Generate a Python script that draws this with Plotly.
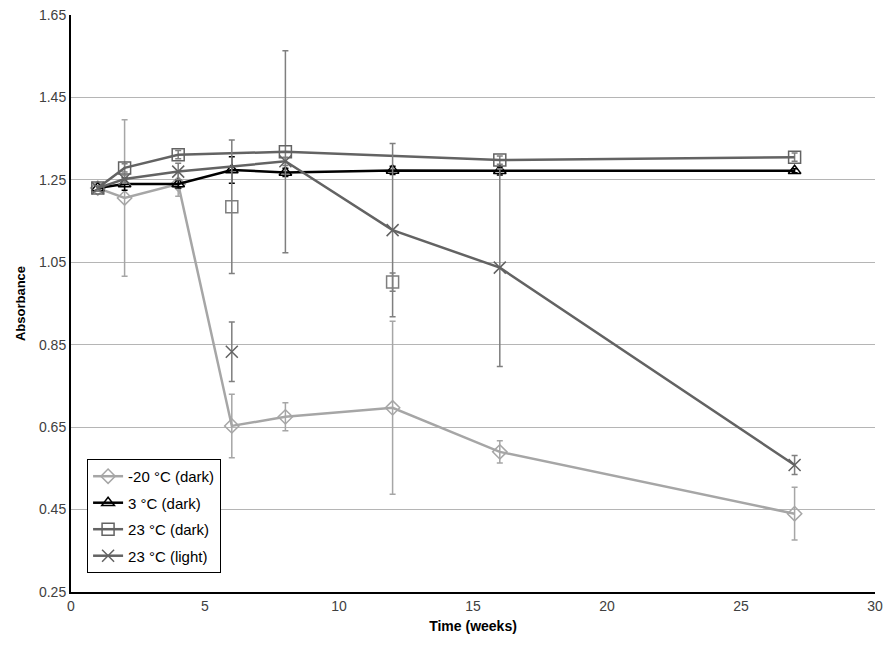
import plotly.graph_objects as go

# ---- data ----
weeks = [1, 2, 4, 6, 8, 12, 16, 27]

m20_y = [1.23, 1.206, 1.24, 0.653, 0.675, 0.697, 0.59, 0.44]
m20_err = [0.005, 0.19, 0.03, 0.077, 0.034, 0.21, 0.027, 0.064]

p3_y = [1.23, 1.24, 1.24, 1.274, 1.268, 1.273, 1.272, 1.272]
p3_err = [0.005, 0.015, 0.01, 0.032, 0.01, 0.01, 0.01, 0.005]

d23_x = [1, 2, 4, 8, 16, 27]
d23_y = [1.23, 1.279, 1.311, 1.318, 1.298, 1.305]
d23_err = [0.005, 0.01, 0.01, 0.245, 0.01, 0.01]
d23_extra_x = [6, 12]
d23_extra_y = [1.185, 1.002]
d23_extra_err = [0.162, 0.022]

l23_x = [1, 2, 4, 8, 12, 16, 27]
l23_y = [1.23, 1.252, 1.27, 1.295, 1.128, 1.037, 0.558]
l23_err = [0.005, 0.01, 0.02, 0.01, 0.21, 0.24, 0.023]
l23_extra_x = [6]
l23_extra_y = [0.833]
l23_extra_err = [0.072]

y_ticks = [0.25, 0.45, 0.65, 0.85, 1.05, 1.25, 1.45, 1.65]
y_tick_labels = ["0.25", "0.45", "0.65", "0.85", "1.05", "1.25", "1.45", "1.65"]
x_ticks = [0, 5, 10, 15, 20, 25, 30]

names = ["-20 °C (dark)", "3 °C (dark)", "23 °C (dark)", "23 °C (light)"]

light = "#a6a6a6"
dark = "#636363"

fig = go.Figure()

def err(arr, color):
    return dict(type="data", array=arr, visible=True, color=color, thickness=1.5, width=3)

fig.add_trace(go.Scatter(
    x=weeks, y=m20_y, name=names[0], mode="lines+markers", legendgroup="a",
    line=dict(color=light, width=2.5),
    marker=dict(symbol="diamond-open", size=11, color=light, line=dict(width=1.5)),
    error_y=err(m20_err, light)))

fig.add_trace(go.Scatter(
    x=weeks, y=p3_y, name=names[1], mode="lines+markers", legendgroup="b",
    line=dict(color="#000000", width=2.5),
    marker=dict(symbol="triangle-up-open", size=11, color="#000000", line=dict(width=1.5)),
    error_y=err(p3_err, "#000000")))

fig.add_trace(go.Scatter(
    x=d23_x, y=d23_y, name=names[2], mode="lines+markers", legendgroup="c",
    line=dict(color=dark, width=2.5),
    marker=dict(symbol="square-open", size=12, color=dark, line=dict(width=1.5)),
    error_y=err(d23_err, "#7f7f7f")))
fig.add_trace(go.Scatter(
    x=d23_extra_x, y=d23_extra_y, name=names[2], mode="markers", legendgroup="c",
    showlegend=False,
    marker=dict(symbol="square-open", size=12, color="#7f7f7f", line=dict(width=1.5)),
    error_y=err(d23_extra_err, "#7f7f7f")))

fig.add_trace(go.Scatter(
    x=l23_x, y=l23_y, name=names[3], mode="lines+markers", legendgroup="d",
    line=dict(color=dark, width=2.5),
    marker=dict(symbol="x-thin-open", size=12, color=dark, line=dict(width=1.5, color=dark)),
    error_y=err(l23_err, "#7f7f7f")))
fig.add_trace(go.Scatter(
    x=l23_extra_x, y=l23_extra_y, name=names[3], mode="markers", legendgroup="d",
    showlegend=False,
    marker=dict(symbol="x-thin-open", size=12, color=dark, line=dict(width=1.5, color=dark)),
    error_y=err(l23_extra_err, "#7f7f7f")))

font = "Liberation Sans, Arial, sans-serif"

# page body has an 8px margin, so the figure is sized/offset to compensate
fig.update_layout(
    width=884, height=641,
    margin=dict(l=63, r=17, t=7, b=57),
    paper_bgcolor="white", plot_bgcolor="white",
    font=dict(family=font, size=14, color="#404040"),
    showlegend=True,
    legend=dict(x=0.02, y=0.033, xanchor="left", yanchor="bottom",
                bordercolor="#000000", borderwidth=1, bgcolor="white",
                font=dict(size=15, color="#000000"),
                traceorder="grouped", tracegroupgap=4, itemwidth=30),
    xaxis=dict(range=[0, 30], tickvals=x_ticks, showgrid=False, zeroline=False,
               showline=True, linecolor="#000000", linewidth=2, automargin=False,
               ticks="", tickfont=dict(size=14, color="#404040"),
               ticklabeloverflow="allow",
               title=dict(text="<b>Time (weeks)</b>", font=dict(size=14, color="#000000"), standoff=8)),
    yaxis=dict(range=[0.25, 1.65], tickvals=y_ticks, ticktext=y_tick_labels,
               showgrid=True, gridcolor="#b5b5b5", gridwidth=1, zeroline=False,
               showline=True, linecolor="#000000", linewidth=2, automargin=False,
               ticks="", tickfont=dict(size=14, color="#404040"),
               ticklabeloverflow="allow",
               title=dict(text="<b>Absorbance</b>", font=dict(size=13, color="#000000"), standoff=10)),
)

fig.write_html("out.html")
